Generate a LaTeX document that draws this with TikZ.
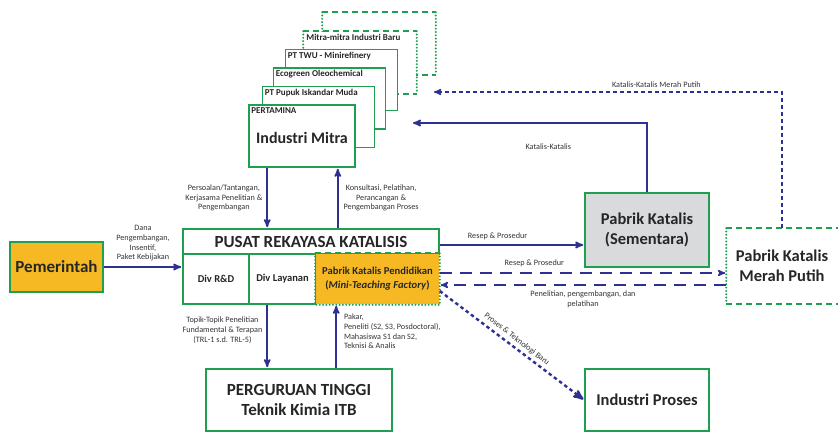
\documentclass[tikz,border=0pt]{standalone}
\usepackage{fontspec}
\setmainfont{Carlito}
\usetikzlibrary{arrows}

\definecolor{boxgreen}{RGB}{30,160,80}
\definecolor{flowblue}{RGB}{46,49,146}
\definecolor{kuning}{RGB}{246,185,36}
\definecolor{abu}{RGB}{217,218,219}

\begin{document}
\begin{tikzpicture}[x=1pt,y=-1pt,>=stealth',
  box/.style={draw=boxgreen,line width=1.6pt,fill=white,align=center,inner sep=0pt,
    text=black!85,font=\bfseries\fontsize{16.5}{20}\selectfont},
  div box/.style={box,font=\bfseries\fontsize{10.5}{14}\selectfont},
  mitra box/.style={box,draw=boxgreen,minimum width=112,minimum height=61},
  mitra label/.style={anchor=north west,inner sep=3pt,text=black!85,font=\bfseries\fontsize{9}{10}\selectfont},
  green dash/.style={draw=boxgreen,line width=1.6pt,dash pattern=on 6pt off 4pt},
  green dot/.style={draw=boxgreen,line width=2.2pt,line cap=round,dash pattern=on 0pt off 3.3pt},
  flow/.style={->,draw=flowblue,line width=1.7pt,shorten >=1pt},
  dash flow/.style={flow,line width=1.5pt,dash pattern=on 4pt off 3pt},
  long dash flow/.style={flow,line width=1.5pt,dash pattern=on 12pt off 8pt},
  dot flow/.style={flow,line width=2.4pt,dash pattern=on 3.5pt off 3pt},
  flow label/.style={text=black!80,align=center,inner sep=1pt,font=\fontsize{8.2}{9.7}\selectfont}]

  \useasboundingbox (0,0) rectangle (838,432);

  % stacked partner industries
  \node[mitra box,draw=none] (baru2) at (379,43.5) {};
  \draw[green dash] (baru2.north west) -- (baru2.north east);
  \draw[green dash] (baru2.south west) -- (baru2.south east);
  \draw[green dot] (baru2.north west) -- (baru2.south west);
  \draw[green dot] (baru2.north east) -- (baru2.south east);
  \node[mitra box,draw=none] (baru) at (360,62.5) {};
  \draw[green dash] (baru.north west) -- (baru.north east);
  \draw[green dash] (baru.south west) -- (baru.south east);
  \draw[green dot] (baru.north west) -- (baru.south west);
  \draw[green dot] (baru.north east) -- (baru.south east);
  \node[mitra label] at (baru.north west) {Mitra-mitra Industri Baru};
  \node[mitra box] (twu) at (341.5,80) {};
  \node[mitra label] at (twu.north west) {PT TWU - Minirefinery};
  \node[mitra box] (eco) at (329.5,98.5) {};
  \node[mitra label] at (eco.north west) {Ecogreen Oleochemical};
  \node[mitra box] (pim) at (318.5,117) {};
  \node[mitra label] at (pim.north west) {PT Pupuk Iskandar Muda};
  \node[box,minimum width=106,minimum height=62,font=\bfseries\fontsize{16}{19}\selectfont] (mitra) at (302,136) {\rule{0pt}{15pt}Industri Mitra};
  \node[mitra label] at (mitra.north west) {PERTAMINA};

  % main boxes
  \node[box,fill=kuning,minimum width=93,minimum height=50,font=\bfseries\fontsize{17}{20}\selectfont] (pemerintah) at (56.5,267) {Pemerintah};
  \node[box,minimum width=256,minimum height=25,font=\bfseries\fontsize{17}{20}\selectfont] (pusat) at (311,241.5) {PUSAT REKAYASA KATALISIS};
  \node[div box,minimum width=66,minimum height=50] (rnd) at (216,279) {Div R\&D};
  \node[div box,minimum width=67,minimum height=50] (layanan) at (282.5,279) {Div Layanan};
  \node[div box,draw=none,fill=kuning,minimum width=123,minimum height=50,font=\bfseries\fontsize{10.6}{14}\selectfont] (didik) at (377.5,279)
    {Pabrik Katalis Pendidikan\\(\textit{Mini-Teaching Factory})};
  \draw[green dash] (didik.north west) -- (didik.north east);
  \draw[green dot] (didik.north east) -- (didik.south east) -- (didik.south west) -- (didik.north west);

  \node[box,fill=abu,minimum width=124,minimum height=74] (sementara) at (647,230) {Pabrik Katalis\\(Sementara)};
  \node[box,draw=none,minimum width=110,minimum height=74] (merah) at (782,266) {Pabrik Katalis\\Merah Putih};
  \draw[green dash] (merah.north west) -- (merah.north east);
  \draw[green dash] (merah.south west) -- (merah.south east);
  \draw[green dot] (merah.north west) -- (merah.south west);
  \draw[draw=boxgreen,line width=0.6pt,dotted] (merah.north east) -- (merah.south east);

  \node[box,minimum width=124,minimum height=62] (proses) at (647,400) {Industri Proses};
  \node[box,minimum width=186,minimum height=62,font=\bfseries\fontsize{17}{20}\selectfont] (pt) at (299,400) {PERGURUAN TINGGI\\Teknik Kimia ITB};

  % free ends
  \coordinate (km) at (412,123);
  \coordinate (kmp) at (433,92);
  \coordinate (rp) at ([yshift=-15pt]sementara.west);

  % connectors
  \draw[flow] (pemerintah.east) -- (pemerintah.east -| rnd.west)
    node[midway,above=4pt,flow label] {Dana\\Pengembangan,\\Insentif,\\Paket Kebijakan};
  \draw[flow] ([xshift=19pt]mitra.south west) -- ([xshift=19pt]mitra.south west |- pusat.north)
    node[midway,left=3pt,flow label] {Persoalan/Tantangan,\\Kerjasama Penelitian \&\\Pengembangan};
  \draw[flow] ([xshift=-18pt]mitra.south east |- pusat.north) -- ([xshift=-18pt]mitra.south east)
    node[midway,right=4pt,flow label] {Konsultasi, Pelatihan,\\Perancangan \&\\Pengembangan Proses};
  \draw[flow] ([xshift=62pt]pt.north west |- rnd.south) -- ([xshift=62pt]pt.north west)
    node[pos=0.4,left=3pt,flow label] {Topik-Topik Penelitian\\Fundamental \& Terapan\\(TRL-1 s.d. TRL-5)};
  \draw[flow] ([xshift=131pt]pt.north west) -- ([xshift=131pt]pt.north west |- didik.south)
    node[pos=0.58,right=6pt,flow label,align=left] {Pakar,\\Peneliti (S2, S3, Posdoctoral),\\Mahasiswa S1 dan S2,\\Teknisi \& Analis};
  \draw[flow] (pusat.east |- rp) -- (rp)
    node[pos=0.4,above=3pt,flow label] {Resep \& Prosedur};
  \draw[flow] (sementara.north) |- (km)
    node[pos=0.71,below=19pt,flow label] {Katalis-Katalis};
  \draw[dash flow] (merah.north) |- (kmp)
    node[pos=0.68,above=3pt,flow label] {Katalis-Katalis Merah Putih};
  \draw[long dash flow] ([yshift=6pt]didik.east) -- ([yshift=6pt]didik.east -| merah.west)
    node[pos=0.33,above=4pt,flow label] {Resep \& Prosedur};
  \draw[long dash flow] ([yshift=-6pt]didik.east -| merah.west) -- ([yshift=-6pt]didik.east)
    node[midway,below=4pt,flow label] {Penelitian, pengembangan, dan\\pelatihan};
  \draw[dot flow] ([yshift=-12pt]didik.east) -- (proses.west)
    node[midway,anchor=south,rotate=-37.8,flow label,inner sep=3pt] {Proses \& Teknologi Baru};
\end{tikzpicture}
\end{document}
